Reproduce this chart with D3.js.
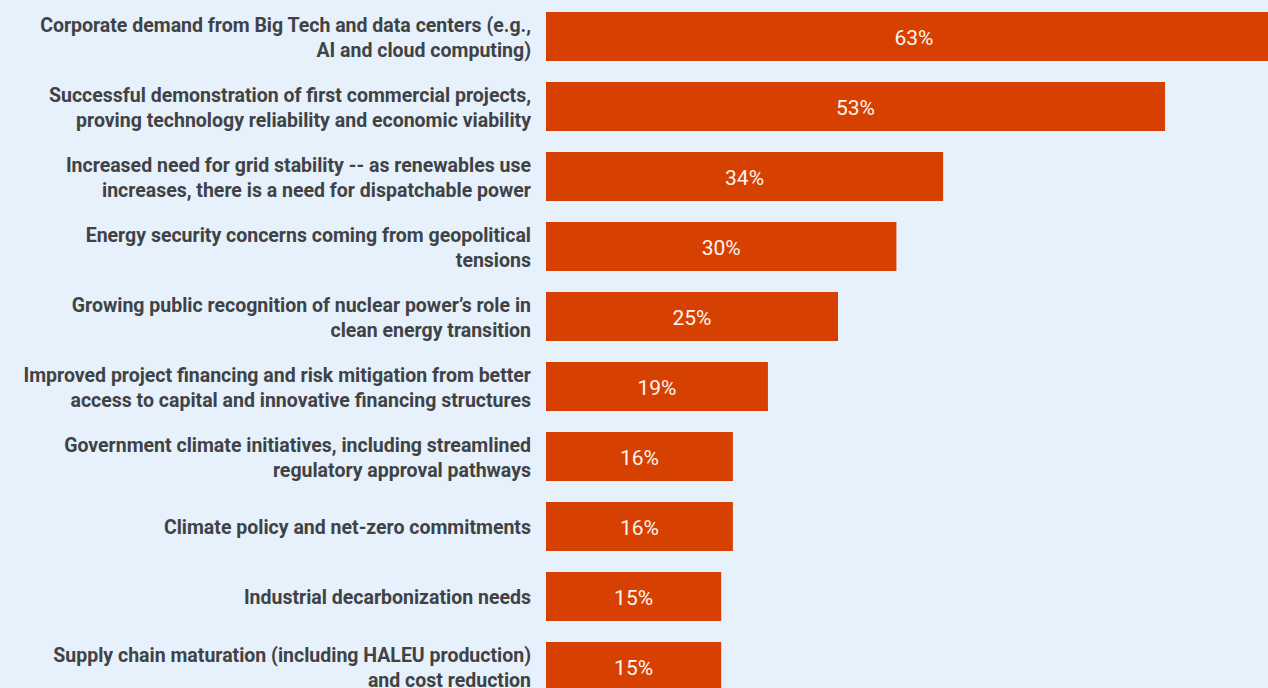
<!DOCTYPE html>
<html>
<head>
<meta charset="utf-8">
<script src="https://cdn.jsdelivr.net/npm/d3@7/dist/d3.min.js"></script>
<style>
  html, body { margin: 0; padding: 0; background: #e6f1fb; overflow: hidden; }
  svg { display: block; overflow: visible; }
</style>
</head>
<body>
<svg id="chart" width="1268" height="688"></svg>
<script>
// Drivers of nuclear energy investment, share of respondents (%)
const categories = [
  ["Corporate demand from Big Tech and data centers (e.g.,", "AI and cloud computing)"],
  ["Successful demonstration of first commercial projects,", "proving technology reliability and economic viability"],
  ["Increased need for grid stability -- as renewables use", "increases, there is a need for dispatchable power"],
  ["Energy security concerns coming from geopolitical", "tensions"],
  ["Growing public recognition of nuclear power\u2019s role in", "clean energy transition"],
  ["Improved project financing and risk mitigation from better", "access to capital and innovative financing structures"],
  ["Government climate initiatives, including streamlined", "regulatory approval pathways"],
  ["Climate policy and net-zero commitments"],
  ["Industrial decarbonization needs"],
  ["Supply chain maturation (including HALEU production)", "and cost reduction"]
];
const values = [63, 53, 34, 30, 25, 19, 16, 16, 15, 15];

const data = categories.map((lines, i) => ({ key: i, lines, value: values[i] }));

const svg = d3.select("#chart");

const x = d3.scaleLinear().domain([0, 63]).range([546, 546 + 63 * 11.68]);
const y = d3.scaleBand()
  .domain(data.map(d => d.key))
  .range([1.5, 701.5])
  .paddingInner(0.3)
  .paddingOuter(0.15);

// Bars
svg.append("g")
  .selectAll("rect")
  .data(data)
  .join("rect")
  .attr("x", x(0))
  .attr("y", d => y(d.key))
  .attr("width", d => x(d.value) - x(0))
  .attr("height", y.bandwidth())
  .attr("fill", "#d64000");

// Value labels centred in each bar
svg.append("g")
  .selectAll("text")
  .data(data)
  .join("text")
  .attr("x", d => (x(0) + x(d.value)) / 2)
  .attr("y", d => y(d.key) + y.bandwidth() / 2 + 1.5)
  .attr("dy", "0.35em")
  .attr("text-anchor", "middle")
  .attr("fill", "#fff4ee")
  .style("font-family", "Roboto, 'Noto Sans', sans-serif")
  .style("font-size", "21px")
  .text(d => d.value + "%");

// Category labels, right-aligned left of the bars
const lineH = 25.5;
const labels = svg.append("g")
  .selectAll("text")
  .data(data)
  .join("text")
  .attr("text-anchor", "end")
  .attr("fill", "#404245")
  .style("font-family", "Roboto, 'Noto Sans', sans-serif")
  .style("font-weight", "700")
  .style("font-size", "19.5px");

labels.each(function(d) {
  const cy = y(d.key) + y.bandwidth() / 2 + 1;
  const n = d.lines.length;
  d3.select(this).selectAll("tspan")
    .data(d.lines)
    .join("tspan")
    .attr("x", 531)
    .attr("y", (l, j) => cy + (j - (n - 1) / 2) * lineH)
    .attr("dy", "0.35em")
    .text(l => l);
});
</script>
</body>
</html>
